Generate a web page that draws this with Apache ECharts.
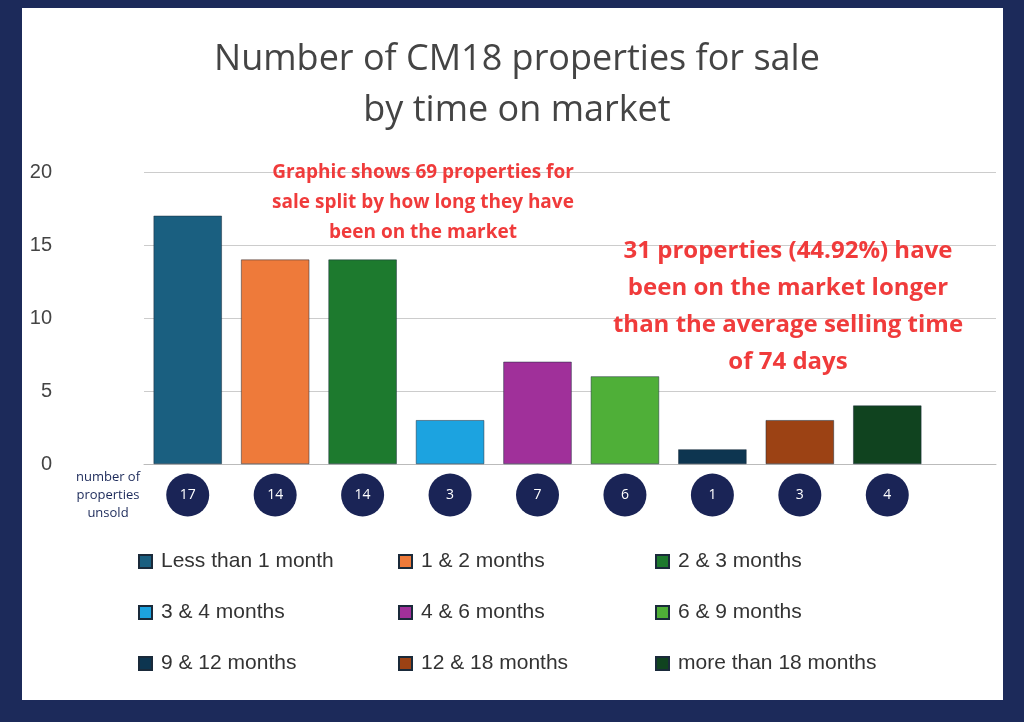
<!DOCTYPE html>
<html><head><meta charset="utf-8">
<script src="https://cdn.jsdelivr.net/npm/echarts@6/dist/echarts.min.js"></script>
<style>html,body{margin:0;padding:0;background:#1c2a5a}#c{width:1024px;height:722px}</style>
</head><body><div id="c"></div>
<script>
const categories = ["Less than 1 month","1 & 2 months","2 & 3 months","3 & 4 months","4 & 6 months","6 & 9 months","9 & 12 months","12 & 18 months","more than 18 months"];
const counts = [17, 14, 14, 3, 7, 6, 1, 3, 4];
const colors = ["#1a5f80","#ee7a3a","#1d7a2e","#1ca3e0","#a0309a","#4faf38","#0d3550","#9c4214","#10431f"];
const yTicks = [0, 5, 10, 15, 20];

const chart = echarts.init(document.getElementById("c"));
const barSeries = categories.map((name, i) => ({
  name, type: "bar", stack: "all", xAxisIndex: 0, yAxisIndex: 0,
  itemStyle: { color: colors[i], borderColor: "#1a2a3a", borderWidth: 0.5 },
  barCategoryGap: "22%",
  data: counts.map((v, j) => (j === i ? v : null))
}));
const leg = (names, left) => ({
  orient: "vertical", left, top: 546, itemGap: 30, itemWidth: 13, itemHeight: 13,
  icon: "rect", data: names, selectedMode: false,
  textStyle: { fontSize: 21, color: "#333", fontFamily: "Liberation Sans", padding: [0, 0, 0, 4] }
});
const red = "#f03b3b";

chart.setOption({
  backgroundColor: "#1c2a5a",
  animation: false,
  graphic: [
    { type: "rect", shape: { x: 22, y: 8, width: 981, height: 692 }, style: { fill: "#fff" }, z: -10 },
    { type: "text", x: 517, y: 34, z: 100, style: { text: "Number of CM18 properties for sale\nby time on market", fill: "#444", font: "36px 'Open Sans'", textAlign: "center", lineHeight: 51 } },
    { type: "text", x: 423, y: 158, z: 100, style: { text: "Graphic shows 69 properties for\nsale split by how long they have\nbeen on the market", fill: red, font: "bold 19px 'Open Sans'", textAlign: "center", lineHeight: 30 } },
    { type: "text", x: 788, y: 233, z: 100, style: { text: "31 properties (44.92%) have\nbeen on the market longer\nthan the average selling time\nof 74 days", fill: red, font: "bold 24px 'Open Sans'", textAlign: "center", lineHeight: 37 } },
    { type: "text", x: 108, y: 468, z: 100, style: { text: "number of\nproperties\nunsold", fill: "#1c2a5a", font: "13px 'Open Sans'", textAlign: "center", lineHeight: 18 } }
  ],
  legend: [
    leg([categories[0], categories[3], categories[6]], 133),
    leg([categories[1], categories[4], categories[7]], 393),
    leg([categories[2], categories[5], categories[8]], 650)
  ],
  grid: [
    { left: 144, top: 172, width: 787, height: 292 },
    { left: 144, top: 172, width: 852, height: 292 },
    { left: 144, top: 474, width: 787, height: 42 }
  ],
  xAxis: [
    { type: "category", gridIndex: 0, data: categories, axisLine: { show: false }, axisTick: { show: false }, axisLabel: { show: false } },
    { type: "category", gridIndex: 1, data: [""], axisLine: { lineStyle: { color: "#bbb" } }, axisTick: { show: false }, axisLabel: { show: false } },
    { type: "category", gridIndex: 2, data: categories, show: false }
  ],
  yAxis: [
    { type: "value", gridIndex: 0, min: 0, max: 20, interval: 5, splitLine: { show: false },
      axisLabel: { fontSize: 20, color: "#444", margin: 92, fontFamily: "Liberation Sans" } },
    { type: "value", gridIndex: 1, min: yTicks[0], max: yTicks[4], interval: 5, axisLabel: { show: false },
      splitLine: { lineStyle: { color: "#ccc" } } },
    { type: "value", gridIndex: 2, min: 0, max: 1, show: false }
  ],
  series: barSeries.concat([{
    type: "scatter", xAxisIndex: 2, yAxisIndex: 2, symbolSize: 43,
    itemStyle: { color: "#1a2456", opacity: 1 }, silent: true,
    data: counts.map((v, i) => [categories[i], 0.5, v]),
    label: { show: true, position: "inside", formatter: p => p.value[2], color: "#fff", fontSize: 14, fontFamily: "Open Sans" }
  }])
});
</script></body></html>
